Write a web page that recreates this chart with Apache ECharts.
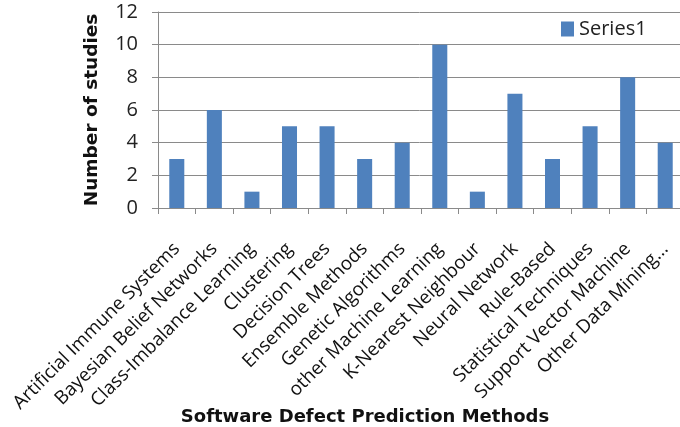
<!DOCTYPE html>
<html>
<head>
<meta charset="utf-8">
<script src="https://cdn.jsdelivr.net/npm/echarts@6/dist/echarts.min.js"></script>
<style>html,body{margin:0;padding:0;background:#fff;}#c{width:680px;height:427px;}</style>
</head>
<body>
<div id="c"></div>
<script>
var categories = ["Artificial Immune Systems","Bayesian Belief Networks","Class-Imbalance Learning","Clustering","Decision Trees","Ensemble Methods","Genetic Algorithms","other Machine Learning","K-Nearest Neighbour","Neural Network","Rule-Based","Statistical Techniques","Support Vector Machine","Other Data Mining..."];
var series1 = [3,6,1,5,5,3,4,10,1,7,3,5,8,4];
var yTicks = {min:0, max:12, interval:2};

var chart = echarts.init(document.getElementById('c'), null, {renderer:'canvas'});
chart.setOption({
  animation:false,
  backgroundColor:'#fff',
  grid:{left:158, right:-4, top:12, bottom:219, containLabel:false, outerBoundsMode:'none'},
  legend:{
    data:['Series1'], left:561, top:19, padding:0, itemWidth:13, itemHeight:15, itemGap:6,
    icon:'rect',
    textStyle:{fontFamily:'Open Sans', fontSize:20, color:'#222', padding:[0,0,0,0]}
  },
  xAxis:{
    type:'category', data:categories,
    name:'Software Defect Prediction Methods', nameLocation:'middle', nameGap:200, nameMoveOverlap:false,
    nameTextStyle:{fontFamily:'DejaVu Sans', fontWeight:'bold', fontSize:18, color:'#111', align:'center', padding:[0,112,0,0]},
    axisLine:{lineStyle:{color:'#8a8a8a', width:1}},
    axisTick:{show:true, alignWithLabel:false, length:6, lineStyle:{color:'#8a8a8a'}},
    axisLabel:{interval:0, rotate:45, margin:38, fontFamily:'Open Sans', fontSize:18.8, color:'#111'}
  },
  yAxis:{
    type:'value', min:yTicks.min, max:yTicks.max, interval:yTicks.interval,
    name:'Number of studies', nameLocation:'middle', nameGap:56, nameRotate:90, nameMoveOverlap:false,
    nameTextStyle:{fontFamily:'DejaVu Sans', fontWeight:'bold', fontSize:18.5, color:'#111'},
    axisLine:{show:true, lineStyle:{color:'#8a8a8a', width:1}},
    axisTick:{show:true, length:6, lineStyle:{color:'#8a8a8a'}},
    splitLine:{show:true, lineStyle:{color:'#8a8a8a', width:1}},
    axisLabel:{margin:20, fontFamily:'Open Sans', fontSize:20, color:'#222'}
  },
  series:[{
    name:'Series1', type:'bar', data:series1, barWidth:'40%',
    itemStyle:{color:'#4F81BD'}
  }]
});
</script>
</body>
</html>
